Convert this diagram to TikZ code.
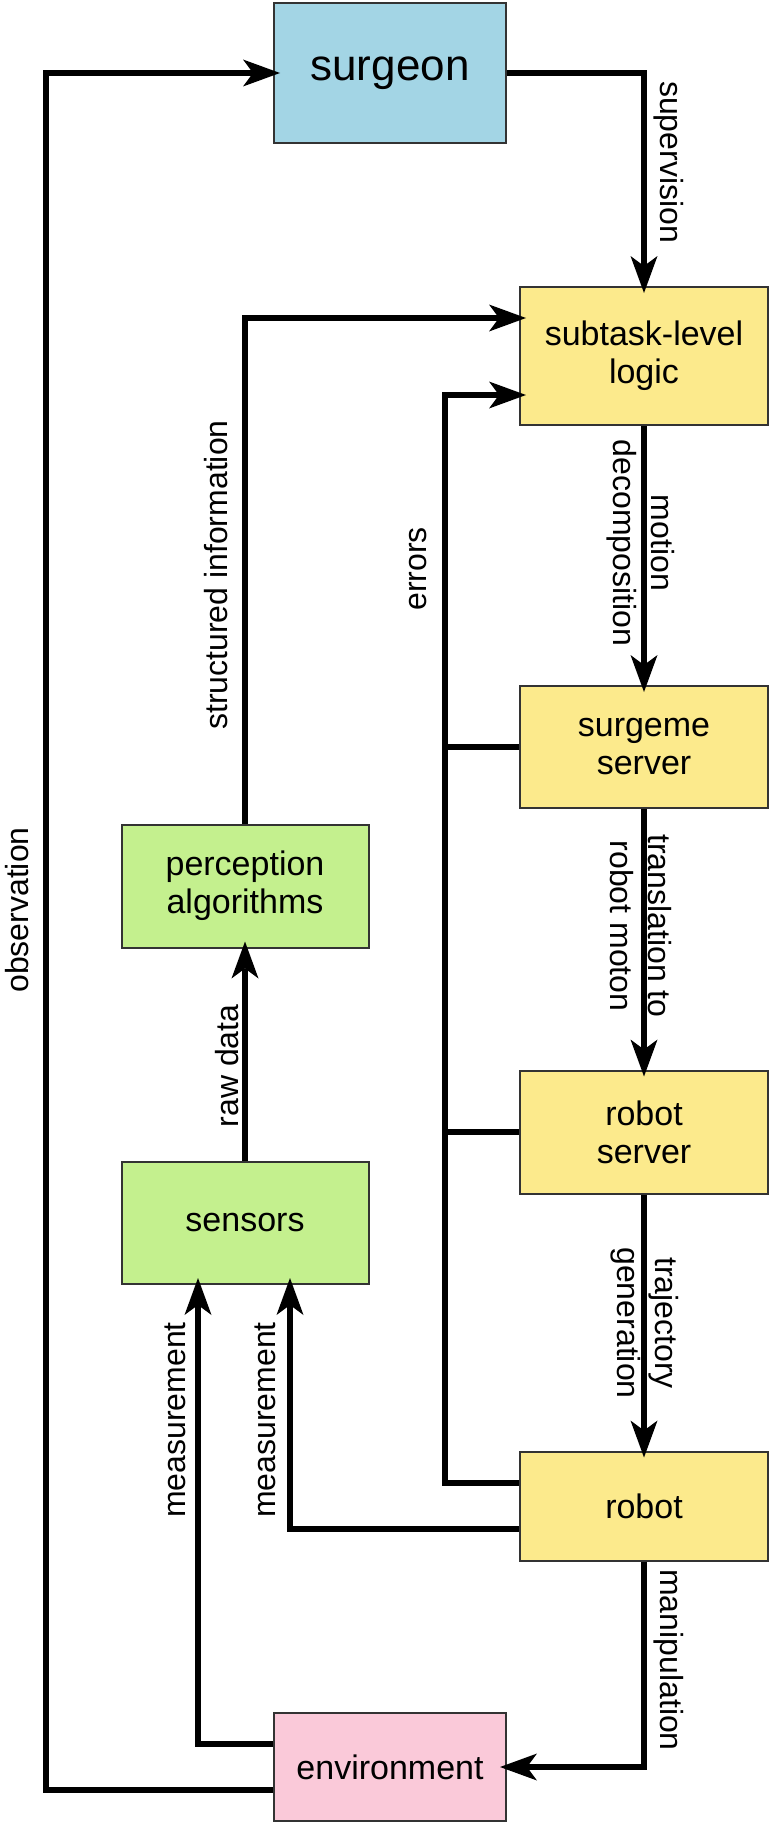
\documentclass[tikz,border=0pt]{standalone}
\usepackage{fontspec}
\setmainfont{Liberation Sans}
\usetikzlibrary{arrows.meta,calc}
\definecolor{surgeonblue}{HTML}{A3D5E5}
\definecolor{logicyellow}{HTML}{FCEA8C}
\definecolor{perceptgreen}{HTML}{C4F08E}
\definecolor{envpink}{HTML}{FAC9D9}
\tikzset{
	lbl/.style={inner sep=0pt,align=center,font=\fontsize{32}{38}\selectfont},
	flow/.style={->,shorten >=-7pt}
}
\begin{document}
\begin{tikzpicture}[x=1pt,y=-1pt]
	\useasboundingbox (0,0) rectangle (769,1825);

	\begin{scope}[every node/.style={rectangle,draw=black!80,line width=2pt,inner sep=0pt,align=center,font=\fontsize{34}{38}\selectfont}]
		\node[fill=surgeonblue,minimum width=232pt,minimum height=140pt,font=\fontsize{44}{50}\selectfont] (surgeon) at (390,73) {surgeon};
		\node[fill=logicyellow,minimum width=248pt,minimum height=138pt] (subtask) at (644,356) {subtask-level\\logic};
		\node[fill=logicyellow,minimum width=248pt,minimum height=122pt] (surgeme) at (644,747) {surgeme\\server};
		\node[fill=logicyellow,minimum width=248pt,minimum height=123pt] (rserver) at (644,1132) {robot\\server};
		\node[fill=logicyellow,minimum width=248pt,minimum height=109pt] (robot) at (644,1506) {robot};
		\node[fill=perceptgreen,minimum width=247pt,minimum height=123pt] (percept) at (245,886) {perception\\algorithms};
		\node[fill=perceptgreen,minimum width=247pt,minimum height=122pt] (sensors) at (245,1223) {sensors};
		\node[fill=envpink,minimum width=232pt,minimum height=108pt] (env) at (390,1767) {environment};
	\end{scope}

	\coordinate (obsrail) at (46,900);
	\coordinate (measrailA) at (198,1400);
	\coordinate (measrailB) at (290,1400);
	\coordinate (errrail) at (445,600);

	\begin{scope}[>={Stealth[length=37pt,width=27pt,inset=10pt,line width=0pt]},line width=5.5pt]
		\draw[flow] (surgeon.east) -| (subtask.north);
		\draw[flow] (subtask.south) -- (surgeme.north);
		\draw[flow] (surgeme.south) -- (rserver.north);
		\draw[flow] (rserver.south) -- (robot.north);
		\draw[flow] (robot.south) |- (env.east);
		\draw[flow] ([yshift=-23pt]env.west) -| (obsrail) |- (surgeon.west);
		\draw[flow] ([yshift=23pt]env.west) -| (sensors.south -| measrailA);
		\draw[flow] ([yshift=-23pt]robot.west) -| (sensors.south -| measrailB);
		\draw[flow] (sensors.north) -- (percept.south);
		\draw[flow] (percept.north) |- ([yshift=38pt]subtask.west);
		\draw[flow] ([yshift=23pt]robot.west) -| (errrail) |- ([yshift=-39pt]subtask.west);
		\draw (surgeme.west) -- (surgeme.west -| errrail);
		\draw (rserver.west) -- (rserver.west -| errrail);
	\end{scope}

	\node[lbl,rotate=-90] (supervisionlbl) at (669,162) {supervision};
	\node[lbl,rotate=-90] (motionlbl) at (641,543) {motion\\decomposition};
	\node[lbl,rotate=-90] (translationlbl) at (641,926) {translation to\\robot moton};
	\node[lbl,rotate=-90] (trajectorylbl) at (645,1323) {trajectory\\generation};
	\node[lbl,rotate=-90] (manipulationlbl) at (669,1660) {manipulation};
	\node[lbl,rotate=90] (errorslbl) at (418,569) {errors};
	\node[lbl,rotate=90] (structlbl) at (216,575) {structured information};
	\node[lbl,rotate=90] (rawlbl) at (227,1066) {raw data};
	\node[lbl,rotate=90] (measlblA) at (175,1420) {measurement};
	\node[lbl,rotate=90] (measlblB) at (265,1420) {measurement};
	\node[lbl,rotate=90] (obslbl) at (17,910) {observation};
\end{tikzpicture}
\end{document}
